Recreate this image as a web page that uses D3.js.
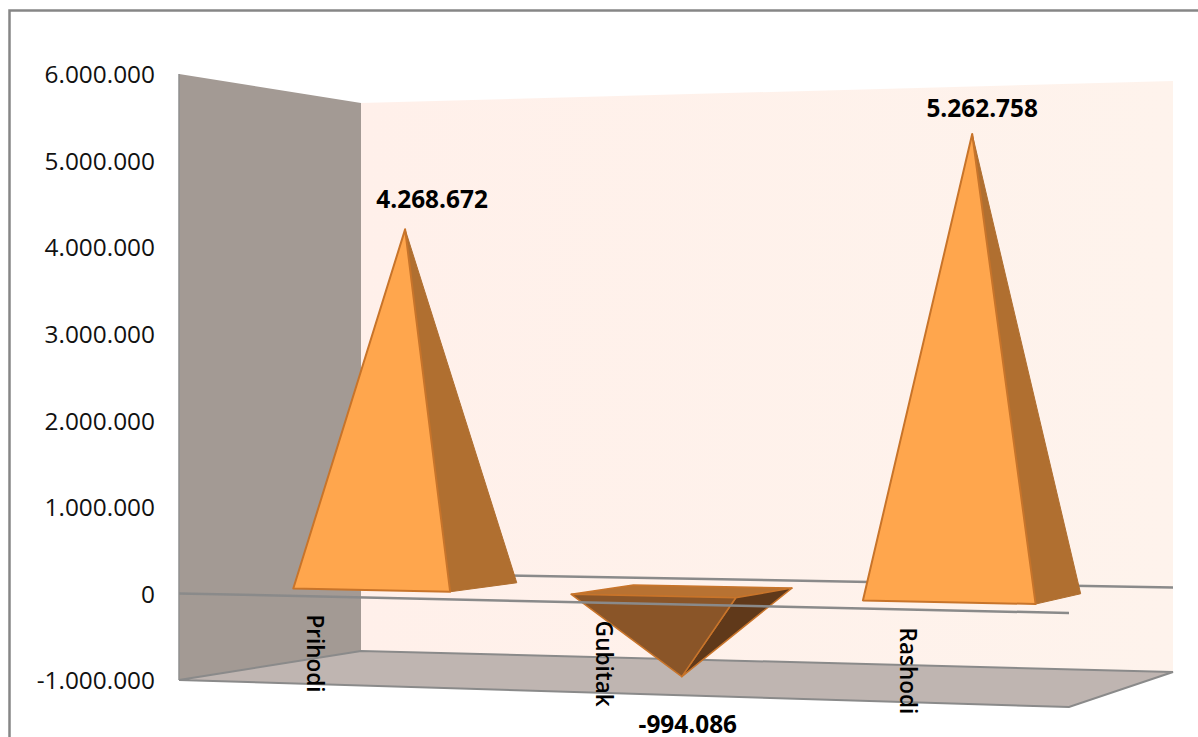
<!DOCTYPE html>
<html>
<head>
  <meta charset="utf-8">
  <title>Prihodi Gubitak Rashodi</title>
  <style>
    body { margin: 0; background: #fff; }
    svg { display: block; }
    .axis text { font-family: "Open Sans", sans-serif; font-size: 24.4px; fill: #111; }
    .cat { font-family: "Open Sans", sans-serif; font-size: 22.5px; font-weight: 600; fill: #000; }
    .val { font-family: "Open Sans", sans-serif; font-size: 24.4px; font-weight: bold; fill: #000; text-anchor: middle; }
  </style>
</head>
<body>
<script src="https://d3js.org/d3.v7.min.js"></script>
<script>
  var categories = ['Prihodi', 'Gubitak', 'Rashodi'];
  var values = [4268672, -994086, 5262758];
  var tickValues = [-1000000, 0, 1000000, 2000000, 3000000, 4000000, 5000000, 6000000];

  var width = 1198, height = 737;

  var svg = d3.select('body').append('svg')
    .attr('width', width)
    .attr('height', height);

  // corners of the 3d box as seen on screen
  var box = {
    frontLeft:  {x: 179,  top: 74,  bottom: 680},
    frontRight: {x: 1069, top: 49,  bottom: 707},
    backLeft:   {x: 361,  top: 103, bottom: 651},
    backRight:  {x: 1173, top: 81,  bottom: 672}
  };

  var yMin = -1000000, yMax = 6000000;
  var xBand = d3.scaleBand().domain(categories).range([0, 1]);
  var vFrac = d3.scaleLinear().domain([yMin, yMax]).range([0, 1]);
  var yFront = d3.scaleLinear().domain([yMin, yMax]).range([box.frontLeft.bottom, box.frontLeft.top]);

  var barHalf = 0.095, barShift = 0.002, depth0 = 0.3, depth1 = 0.71, depthMid = 0.5;
  var persp = 1.075;

  function lerp(a, b, t) { return a + (b - a) * t; }

  // t along the category axis, v data value, d depth 0 (front) .. 1 (back)
  function project(t, v, d) {
    var u = t / (t + persp * (1 - t));
    var f = vFrac(v);
    var xF = lerp(box.frontLeft.x, box.frontRight.x, u),
        xB = lerp(box.backLeft.x, box.backRight.x, u);
    var yF = lerp(lerp(box.frontLeft.bottom, box.frontRight.bottom, u), lerp(box.frontLeft.top, box.frontRight.top, u), f),
        yB = lerp(lerp(box.backLeft.bottom, box.backRight.bottom, u), lerp(box.backLeft.top, box.backRight.top, u), f);
    return [lerp(xF, xB, d), lerp(yF, yB, d)];
  }

  var line = d3.line();
  function poly(pts, fill, stroke, sw) {
    svg.append('path')
      .attr('d', line(pts) + 'Z')
      .attr('fill', fill)
      .attr('stroke', stroke || 'none')
      .attr('stroke-width', sw || 0)
      .attr('stroke-linejoin', 'round');
  }
  function gridLine(pts, color, sw) {
    svg.append('path')
      .attr('d', line(pts))
      .attr('fill', 'none')
      .attr('stroke', color)
      .attr('stroke-width', sw);
  }

  // chart frame
  svg.append('rect')
    .attr('x', 9.5).attr('y', 10.5)
    .attr('width', width + 20).attr('height', height + 20)
    .attr('fill', '#fff')
    .attr('stroke', '#868686')
    .attr('stroke-width', 2.5);

  // walls
  var defs = svg.append('defs');
  var grad = defs.append('linearGradient').attr('id', 'backWall');
  grad.append('stop').attr('offset', '0%').attr('stop-color', '#fff0ea');
  grad.append('stop').attr('offset', '100%').attr('stop-color', '#fef3ec');

  poly([project(0, yMax, 0), project(0, yMax, 1), project(0, yMin, 1), project(0, yMin, 0)], '#a39a94');
  poly([project(0, yMax, 1), project(1, yMax, 1), project(1, yMin, 1), project(0, yMin, 1)], 'url(#backWall)');
  poly([project(0, yMin, 0), project(0, yMin, 1), project(1, yMin, 1), project(1, yMin, 0)], '#bfb5b1');

  gridLine([project(0, yMax, 0), project(0, yMin, 0)], '#8f8f8f', 1.5);
  gridLine([project(0, yMin, 0), project(0, yMin, 1), project(1, yMin, 1), project(1, yMin, 0), project(0, yMin, 0)], '#8a8a8a', 2);

  // zero line on the back wall
  gridLine([project(0, 0, 1), project(1, 0, 1)], '#8a8a8a', 2.5);

  // pyramids
  categories.forEach(function(c, i) {
    var v = values[i];
    var tc = xBand(c) + xBand.bandwidth() / 2 + barShift;
    var fl = project(tc - barHalf, 0, depth0),
        fr = project(tc + barHalf, 0, depth0),
        br = project(tc + barHalf, 0, depth1),
        bl = project(tc - barHalf, 0, depth1),
        apex = project(tc, v, depthMid);
    if (v >= 0) {
      poly([br, fr, apex], '#b06f30', '#b06f30', 1);
      poly([fl, fr, apex], '#ffa64d', '#c8742a', 2);
    } else {
      poly([fl, bl, br, fr], '#b87232', '#c8742a', 1.5);
      poly([br, fr, apex], '#60391a', '#c8742a', 1.5);
      poly([fl, fr, apex], '#8a5528', '#c8742a', 1.5);
    }
  });

  // zero line in front
  gridLine([project(0, 0, 0), project(1, 0, 0)], '#8a8a8a', 2.5);

  // value axis
  var loc = d3.formatLocale({decimal: ',', thousands: '.', grouping: [3], currency: ['', ''], minus: '-'});
  var fmt = loc.format(',');

  var yAxis = d3.axisLeft(yFront)
    .tickValues(tickValues)
    .tickSize(0)
    .tickPadding(0)
    .tickFormat(fmt);
  svg.append('g')
    .attr('class', 'axis')
    .attr('transform', 'translate(155,1)')
    .call(yAxis)
    .call(function(g) { g.select('.domain').remove(); });

  // category labels, rotated
  categories.forEach(function(c) {
    var p = project(xBand(c) + xBand.bandwidth() / 2, 0, 0);
    svg.append('text')
      .attr('class', 'cat')
      .attr('transform', 'translate(' + (p[0] - 11.5) + ',' + (p[1] + 18) + ') rotate(90)')
      .text(c);
  });

  // data labels
  var labelOffset = [[27, -21], [6, 56], [10, -17]];
  values.forEach(function(v, i) {
    var tc = xBand(categories[i]) + xBand.bandwidth() / 2 + barShift;
    var a = project(tc, v, depthMid);
    svg.append('text')
      .attr('class', 'val')
      .attr('x', a[0] + labelOffset[i][0])
      .attr('y', a[1] + labelOffset[i][1])
      .text(fmt(v));
  });
</script>
</body>
</html>
